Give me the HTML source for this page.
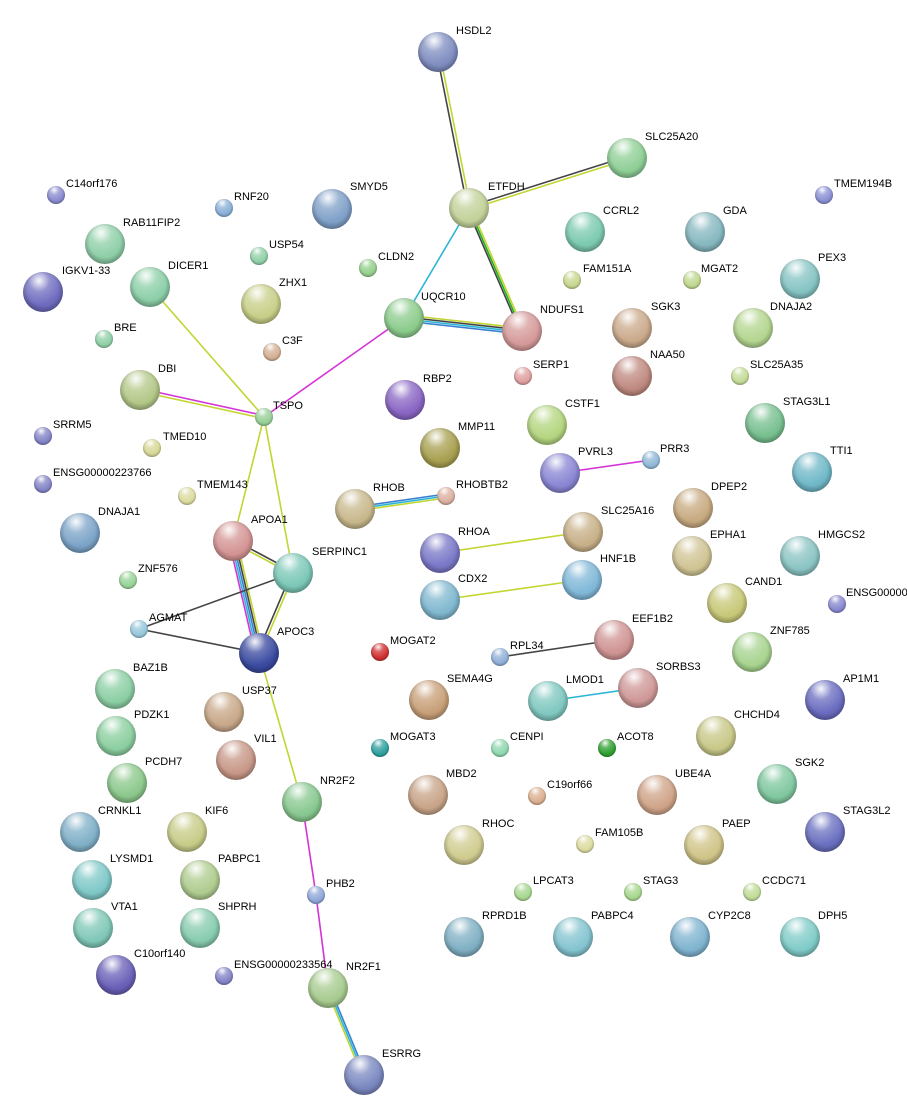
<!DOCTYPE html>
<html><head><meta charset="utf-8"><style>
html,body{margin:0;padding:0;background:#fff;}
svg{display:block;}
text{font-family:"Liberation Sans",sans-serif;font-size:11px;fill:#000;}
</style></head><body>
<svg width="907" height="1119" viewBox="0 0 907 1119" xmlns="http://www.w3.org/2000/svg">
<defs>
<radialGradient id="hl" cx="40%" cy="22%" r="60%"><stop offset="0" stop-color="#fff" stop-opacity="0.95"/><stop offset="0.45" stop-color="#fff" stop-opacity="0.25"/><stop offset="1" stop-color="#fff" stop-opacity="0"/></radialGradient>
<radialGradient id="rim" cx="50%" cy="45%" r="55%"><stop offset="0.7" stop-color="#000" stop-opacity="0"/><stop offset="1" stop-color="#000" stop-opacity="0.3"/></radialGradient>
<symbol id="o" viewBox="-1 -1 2 2" overflow="visible"><circle r="1" fill="url(#rim)"/><circle r="1" fill="url(#hl)"/></symbol>
</defs>
<g stroke-width="1.6" fill="none">
<line x1="436.5" y1="52" x2="467.5" y2="208" stroke="#444"/>
<line x1="439.5" y1="52" x2="470.5" y2="208" stroke="#c2d530"/>
<line x1="469" y1="206.5" x2="627" y2="156.5" stroke="#444"/>
<line x1="469" y1="209.5" x2="627" y2="159.5" stroke="#c2d530"/>
<line x1="469" y1="208" x2="404" y2="318" stroke="#2ab6d6"/>
<line x1="467" y1="208" x2="520" y2="331" stroke="#444"/>
<line x1="469" y1="208" x2="522" y2="331" stroke="#22b322"/>
<line x1="471" y1="208" x2="524" y2="331" stroke="#c2d530"/>
<line x1="404" y1="315" x2="522" y2="328" stroke="#c2d530"/>
<line x1="404" y1="317" x2="522" y2="330" stroke="#444"/>
<line x1="404" y1="319" x2="522" y2="332" stroke="#2ab6d6"/>
<line x1="404" y1="321" x2="522" y2="334" stroke="#3a7fd0"/>
<line x1="404" y1="318" x2="264" y2="417" stroke="#d633d6"/>
<line x1="150" y1="287" x2="264" y2="417" stroke="#c2d530"/>
<line x1="140" y1="388.5" x2="264" y2="415.5" stroke="#d633d6"/>
<line x1="140" y1="391.5" x2="264" y2="418.5" stroke="#c2d530"/>
<line x1="264" y1="417" x2="233" y2="541" stroke="#c2d530"/>
<line x1="264" y1="417" x2="293" y2="573" stroke="#c2d530"/>
<line x1="233" y1="539.5" x2="293" y2="571.5" stroke="#444"/>
<line x1="233" y1="542.5" x2="293" y2="574.5" stroke="#c2d530"/>
<line x1="229" y1="541" x2="255" y2="653" stroke="#d633d6"/>
<line x1="231" y1="541" x2="257" y2="653" stroke="#2ab6d6"/>
<line x1="233" y1="541" x2="259" y2="653" stroke="#3a7fd0"/>
<line x1="235" y1="541" x2="261" y2="653" stroke="#444"/>
<line x1="237" y1="541" x2="263" y2="653" stroke="#c2d530"/>
<line x1="291.5" y1="573" x2="257.5" y2="653" stroke="#444"/>
<line x1="294.5" y1="573" x2="260.5" y2="653" stroke="#c2d530"/>
<line x1="139" y1="629" x2="293" y2="573" stroke="#444"/>
<line x1="139" y1="629" x2="259" y2="653" stroke="#444"/>
<line x1="259" y1="653" x2="302" y2="802" stroke="#c2d530"/>
<line x1="302" y1="802" x2="316" y2="895" stroke="#d633d6"/>
<line x1="316" y1="895" x2="328" y2="988" stroke="#d633d6"/>
<line x1="326" y1="988" x2="362" y2="1075" stroke="#c2d530"/>
<line x1="328" y1="988" x2="364" y2="1075" stroke="#2ab6d6"/>
<line x1="330" y1="988" x2="366" y2="1075" stroke="#3a7fd0"/>
<line x1="355" y1="507" x2="446" y2="494" stroke="#3a7fd0"/>
<line x1="355" y1="509" x2="446" y2="496" stroke="#2ab6d6"/>
<line x1="355" y1="511" x2="446" y2="498" stroke="#c2d530"/>
<line x1="440" y1="553" x2="583" y2="532" stroke="#c2d530"/>
<line x1="440" y1="600" x2="582" y2="580" stroke="#c2d530"/>
<line x1="500" y1="657" x2="614" y2="640" stroke="#444"/>
<line x1="548" y1="701" x2="638" y2="688" stroke="#2ab6d6"/>
<line x1="560" y1="473" x2="651" y2="460" stroke="#d633d6"/>
</g>
<g id="nodes">
<!-- large nodes r=20 -->
<g>
<circle cx="438" cy="52" r="20" fill="#7f8dc0"/><use href="#o" x="418" y="32" width="40" height="40"/>
<circle cx="627" cy="158" r="20" fill="#8fcf96"/><use href="#o" x="607" y="138" width="40" height="40"/>
<circle cx="469" cy="208" r="20" fill="#c3d29a"/><use href="#o" x="449" y="188" width="40" height="40"/>
<circle cx="332" cy="209" r="20" fill="#7fa0c8"/><use href="#o" x="312" y="189" width="40" height="40"/>
<circle cx="105" cy="244" r="20" fill="#8ecfa8"/><use href="#o" x="85" y="224" width="40" height="40"/>
<circle cx="585" cy="232" r="20" fill="#7ccab0"/><use href="#o" x="565" y="212" width="40" height="40"/>
<circle cx="705" cy="232" r="20" fill="#86b8c0"/><use href="#o" x="685" y="212" width="40" height="40"/>
<circle cx="43" cy="292" r="20" fill="#6f6cc0"/><use href="#o" x="23" y="272" width="40" height="40"/>
<circle cx="150" cy="287" r="20" fill="#8ccfa8"/><use href="#o" x="130" y="267" width="40" height="40"/>
<circle cx="261" cy="304" r="20" fill="#c8cf88"/><use href="#o" x="241" y="284" width="40" height="40"/>
<circle cx="800" cy="279" r="20" fill="#86c4c4"/><use href="#o" x="780" y="259" width="40" height="40"/>
<circle cx="404" cy="318" r="20" fill="#8ccc8c"/><use href="#o" x="384" y="298" width="40" height="40"/>
<circle cx="522" cy="331" r="20" fill="#d69a9a"/><use href="#o" x="502" y="311" width="40" height="40"/>
<circle cx="632" cy="328" r="20" fill="#cbaa8c"/><use href="#o" x="612" y="308" width="40" height="40"/>
<circle cx="753" cy="328" r="20" fill="#b4d690"/><use href="#o" x="733" y="308" width="40" height="40"/>
<circle cx="632" cy="376" r="20" fill="#c08a80"/><use href="#o" x="612" y="356" width="40" height="40"/>
<circle cx="140" cy="390" r="20" fill="#b4c888"/><use href="#o" x="120" y="370" width="40" height="40"/>
<circle cx="405" cy="400" r="20" fill="#8a66c4"/><use href="#o" x="385" y="380" width="40" height="40"/>
<circle cx="765" cy="423" r="20" fill="#78c090"/><use href="#o" x="745" y="403" width="40" height="40"/>
<circle cx="547" cy="425" r="20" fill="#b4d680"/><use href="#o" x="527" y="405" width="40" height="40"/>
<circle cx="440" cy="448" r="20" fill="#a8a050"/><use href="#o" x="420" y="428" width="40" height="40"/>
<circle cx="812" cy="472" r="20" fill="#70b8c8"/><use href="#o" x="792" y="452" width="40" height="40"/>
<circle cx="560" cy="473" r="20" fill="#8a86d4"/><use href="#o" x="540" y="453" width="40" height="40"/>
<circle cx="80" cy="533" r="20" fill="#7ca4c8"/><use href="#o" x="60" y="513" width="40" height="40"/>
<circle cx="355" cy="509" r="20" fill="#c8b88c"/><use href="#o" x="335" y="489" width="40" height="40"/>
<circle cx="693" cy="508" r="20" fill="#c8aa80"/><use href="#o" x="673" y="488" width="40" height="40"/>
<circle cx="233" cy="541" r="20" fill="#d49494"/><use href="#o" x="213" y="521" width="40" height="40"/>
<circle cx="583" cy="532" r="20" fill="#c8b088"/><use href="#o" x="563" y="512" width="40" height="40"/>
<circle cx="440" cy="553" r="20" fill="#7a78c8"/><use href="#o" x="420" y="533" width="40" height="40"/>
<circle cx="692" cy="556" r="20" fill="#d0c494"/><use href="#o" x="672" y="536" width="40" height="40"/>
<circle cx="800" cy="556" r="20" fill="#8cc4c4"/><use href="#o" x="780" y="536" width="40" height="40"/>
<circle cx="293" cy="573" r="20" fill="#7cc8b8"/><use href="#o" x="273" y="553" width="40" height="40"/>
<circle cx="582" cy="580" r="20" fill="#80b8d8"/><use href="#o" x="562" y="560" width="40" height="40"/>
<circle cx="440" cy="600" r="20" fill="#80b8d0"/><use href="#o" x="420" y="580" width="40" height="40"/>
<circle cx="727" cy="603" r="20" fill="#c8c878"/><use href="#o" x="707" y="583" width="40" height="40"/>
<circle cx="259" cy="653" r="20" fill="#3a4aa0"/><use href="#o" x="239" y="633" width="40" height="40"/>
<circle cx="614" cy="640" r="20" fill="#d09494"/><use href="#o" x="594" y="620" width="40" height="40"/>
<circle cx="752" cy="652" r="20" fill="#a8d490"/><use href="#o" x="732" y="632" width="40" height="40"/>
<circle cx="115" cy="689" r="20" fill="#8ccfa4"/><use href="#o" x="95" y="669" width="40" height="40"/>
<circle cx="429" cy="700" r="20" fill="#c8a078"/><use href="#o" x="409" y="680" width="40" height="40"/>
<circle cx="548" cy="701" r="20" fill="#80c8c0"/><use href="#o" x="528" y="681" width="40" height="40"/>
<circle cx="638" cy="688" r="20" fill="#d09898"/><use href="#o" x="618" y="668" width="40" height="40"/>
<circle cx="825" cy="700" r="20" fill="#6a6cc0"/><use href="#o" x="805" y="680" width="40" height="40"/>
<circle cx="224" cy="712" r="20" fill="#c8a888"/><use href="#o" x="204" y="692" width="40" height="40"/>
<circle cx="116" cy="736" r="20" fill="#8ccfa0"/><use href="#o" x="96" y="716" width="40" height="40"/>
<circle cx="716" cy="736" r="20" fill="#c8c888"/><use href="#o" x="696" y="716" width="40" height="40"/>
<circle cx="236" cy="760" r="20" fill="#c89888"/><use href="#o" x="216" y="740" width="40" height="40"/>
<circle cx="127" cy="783" r="20" fill="#8cc88c"/><use href="#o" x="107" y="763" width="40" height="40"/>
<circle cx="428" cy="795" r="20" fill="#c8a488"/><use href="#o" x="408" y="775" width="40" height="40"/>
<circle cx="657" cy="795" r="20" fill="#d0a488"/><use href="#o" x="637" y="775" width="40" height="40"/>
<circle cx="777" cy="784" r="20" fill="#80c8a0"/><use href="#o" x="757" y="764" width="40" height="40"/>
<circle cx="302" cy="802" r="20" fill="#88c890"/><use href="#o" x="282" y="782" width="40" height="40"/>
<circle cx="80" cy="832" r="20" fill="#80b0c8"/><use href="#o" x="60" y="812" width="40" height="40"/>
<circle cx="187" cy="832" r="20" fill="#c8cc88"/><use href="#o" x="167" y="812" width="40" height="40"/>
<circle cx="464" cy="845" r="20" fill="#d0cc90"/><use href="#o" x="444" y="825" width="40" height="40"/>
<circle cx="704" cy="845" r="20" fill="#d0c488"/><use href="#o" x="684" y="825" width="40" height="40"/>
<circle cx="825" cy="832" r="20" fill="#6a70c0"/><use href="#o" x="805" y="812" width="40" height="40"/>
<circle cx="92" cy="880" r="20" fill="#80c8c8"/><use href="#o" x="72" y="860" width="40" height="40"/>
<circle cx="200" cy="880" r="20" fill="#b0cc90"/><use href="#o" x="180" y="860" width="40" height="40"/>
<circle cx="93" cy="928" r="20" fill="#80c8b8"/><use href="#o" x="73" y="908" width="40" height="40"/>
<circle cx="200" cy="928" r="20" fill="#88ccb0"/><use href="#o" x="180" y="908" width="40" height="40"/>
<circle cx="464" cy="937" r="20" fill="#80b0c4"/><use href="#o" x="444" y="917" width="40" height="40"/>
<circle cx="573" cy="937" r="20" fill="#84c4d0"/><use href="#o" x="553" y="917" width="40" height="40"/>
<circle cx="690" cy="937" r="20" fill="#80b4d0"/><use href="#o" x="670" y="917" width="40" height="40"/>
<circle cx="800" cy="937" r="20" fill="#80ccc8"/><use href="#o" x="780" y="917" width="40" height="40"/>
<circle cx="116" cy="975" r="20" fill="#6a60b8"/><use href="#o" x="96" y="955" width="40" height="40"/>
<circle cx="328" cy="988" r="20" fill="#a8cc90"/><use href="#o" x="308" y="968" width="40" height="40"/>
<circle cx="364" cy="1075" r="20" fill="#7a88c0"/><use href="#o" x="344" y="1055" width="40" height="40"/>
</g>
<!-- small nodes r=9 -->
<g>
<circle cx="56" cy="195" r="9" fill="#8a8ad0"/><use href="#o" x="47" y="186" width="18" height="18"/>
<circle cx="224" cy="208" r="9" fill="#8ab0d8"/><use href="#o" x="215" y="199" width="18" height="18"/>
<circle cx="824" cy="195" r="9" fill="#8a90d4"/><use href="#o" x="815" y="186" width="18" height="18"/>
<circle cx="259" cy="256" r="9" fill="#90d0a8"/><use href="#o" x="250" y="247" width="18" height="18"/>
<circle cx="368" cy="268" r="9" fill="#94d08c"/><use href="#o" x="359" y="259" width="18" height="18"/>
<circle cx="572" cy="280" r="9" fill="#c8d890"/><use href="#o" x="563" y="271" width="18" height="18"/>
<circle cx="692" cy="280" r="9" fill="#c0d890"/><use href="#o" x="683" y="271" width="18" height="18"/>
<circle cx="104" cy="339" r="9" fill="#90d0a8"/><use href="#o" x="95" y="330" width="18" height="18"/>
<circle cx="272" cy="352" r="9" fill="#d4b094"/><use href="#o" x="263" y="343" width="18" height="18"/>
<circle cx="523" cy="376" r="9" fill="#e0a0a0"/><use href="#o" x="514" y="367" width="18" height="18"/>
<circle cx="740" cy="376" r="9" fill="#c4dc98"/><use href="#o" x="731" y="367" width="18" height="18"/>
<circle cx="264" cy="417" r="9" fill="#98d098"/><use href="#o" x="255" y="408" width="18" height="18"/>
<circle cx="43" cy="436" r="9" fill="#8484c8"/><use href="#o" x="34" y="427" width="18" height="18"/>
<circle cx="152" cy="448" r="9" fill="#d8d898"/><use href="#o" x="143" y="439" width="18" height="18"/>
<circle cx="651" cy="460" r="9" fill="#90b8d8"/><use href="#o" x="642" y="451" width="18" height="18"/>
<circle cx="43" cy="484" r="9" fill="#8484c8"/><use href="#o" x="34" y="475" width="18" height="18"/>
<circle cx="187" cy="496" r="9" fill="#dcdca0"/><use href="#o" x="178" y="487" width="18" height="18"/>
<circle cx="446" cy="496" r="9" fill="#dcb0a0"/><use href="#o" x="437" y="487" width="18" height="18"/>
<circle cx="128" cy="580" r="9" fill="#98d498"/><use href="#o" x="119" y="571" width="18" height="18"/>
<circle cx="837" cy="604" r="9" fill="#8888d0"/><use href="#o" x="828" y="595" width="18" height="18"/>
<circle cx="139" cy="629" r="9" fill="#98c8dc"/><use href="#o" x="130" y="620" width="18" height="18"/>
<circle cx="380" cy="652" r="9" fill="#d03030"/><use href="#o" x="371" y="643" width="18" height="18"/>
<circle cx="500" cy="657" r="9" fill="#90b0d8"/><use href="#o" x="491" y="648" width="18" height="18"/>
<circle cx="380" cy="748" r="9" fill="#30a0a0"/><use href="#o" x="371" y="739" width="18" height="18"/>
<circle cx="500" cy="748" r="9" fill="#90d8b0"/><use href="#o" x="491" y="739" width="18" height="18"/>
<circle cx="607" cy="748" r="9" fill="#30a030"/><use href="#o" x="598" y="739" width="18" height="18"/>
<circle cx="537" cy="796" r="9" fill="#dcb090"/><use href="#o" x="528" y="787" width="18" height="18"/>
<circle cx="585" cy="844" r="9" fill="#dcdca0"/><use href="#o" x="576" y="835" width="18" height="18"/>
<circle cx="523" cy="892" r="9" fill="#a8d890"/><use href="#o" x="514" y="883" width="18" height="18"/>
<circle cx="633" cy="892" r="9" fill="#a8d890"/><use href="#o" x="624" y="883" width="18" height="18"/>
<circle cx="752" cy="892" r="9" fill="#c0dc98"/><use href="#o" x="743" y="883" width="18" height="18"/>
<circle cx="316" cy="895" r="9" fill="#90a8d8"/><use href="#o" x="307" y="886" width="18" height="18"/>
<circle cx="224" cy="976" r="9" fill="#8484c8"/><use href="#o" x="215" y="967" width="18" height="18"/>
</g>
</g>
<g>
<text x="456" y="34">HSDL2</text>
<text x="645" y="140">SLC25A20</text>
<text x="488" y="190">ETFDH</text>
<text x="350" y="190">SMYD5</text>
<text x="123" y="226">RAB11FIP2</text>
<text x="603" y="214">CCRL2</text>
<text x="723" y="214">GDA</text>
<text x="62" y="274">IGKV1-33</text>
<text x="168" y="269">DICER1</text>
<text x="279" y="286">ZHX1</text>
<text x="818" y="261">PEX3</text>
<text x="421" y="300">UQCR10</text>
<text x="540" y="313">NDUFS1</text>
<text x="651" y="310">SGK3</text>
<text x="770" y="310">DNAJA2</text>
<text x="650" y="358">NAA50</text>
<text x="158" y="372">DBI</text>
<text x="423" y="382">RBP2</text>
<text x="783" y="405">STAG3L1</text>
<text x="565" y="407">CSTF1</text>
<text x="458" y="430">MMP11</text>
<text x="830" y="454">TTI1</text>
<text x="578" y="455">PVRL3</text>
<text x="98" y="515">DNAJA1</text>
<text x="373" y="491">RHOB</text>
<text x="711" y="490">DPEP2</text>
<text x="251" y="523">APOA1</text>
<text x="601" y="514">SLC25A16</text>
<text x="458" y="535">RHOA</text>
<text x="710" y="538">EPHA1</text>
<text x="818" y="538">HMGCS2</text>
<text x="312" y="555">SERPINC1</text>
<text x="600" y="562">HNF1B</text>
<text x="458" y="582">CDX2</text>
<text x="745" y="585">CAND1</text>
<text x="277" y="635">APOC3</text>
<text x="632" y="622">EEF1B2</text>
<text x="770" y="634">ZNF785</text>
<text x="133" y="671">BAZ1B</text>
<text x="447" y="682">SEMA4G</text>
<text x="566" y="683">LMOD1</text>
<text x="656" y="670">SORBS3</text>
<text x="843" y="682">AP1M1</text>
<text x="242" y="694">USP37</text>
<text x="134" y="718">PDZK1</text>
<text x="734" y="718">CHCHD4</text>
<text x="254" y="742">VIL1</text>
<text x="145" y="765">PCDH7</text>
<text x="446" y="777">MBD2</text>
<text x="675" y="777">UBE4A</text>
<text x="795" y="766">SGK2</text>
<text x="320" y="784">NR2F2</text>
<text x="98" y="814">CRNKL1</text>
<text x="205" y="814">KIF6</text>
<text x="482" y="827">RHOC</text>
<text x="722" y="827">PAEP</text>
<text x="843" y="814">STAG3L2</text>
<text x="110" y="862">LYSMD1</text>
<text x="218" y="862">PABPC1</text>
<text x="111" y="910">VTA1</text>
<text x="218" y="910">SHPRH</text>
<text x="482" y="919">RPRD1B</text>
<text x="591" y="919">PABPC4</text>
<text x="708" y="919">CYP2C8</text>
<text x="818" y="919">DPH5</text>
<text x="134" y="957">C10orf140</text>
<text x="346" y="970">NR2F1</text>
<text x="382" y="1057">ESRRG</text>
<text x="66" y="187">C14orf176</text>
<text x="234" y="200">RNF20</text>
<text x="834" y="187">TMEM194B</text>
<text x="269" y="248">USP54</text>
<text x="378" y="260">CLDN2</text>
<text x="583" y="272">FAM151A</text>
<text x="701" y="272">MGAT2</text>
<text x="114" y="331">BRE</text>
<text x="282" y="344">C3F</text>
<text x="533" y="368">SERP1</text>
<text x="750" y="368">SLC25A35</text>
<text x="273" y="409">TSPO</text>
<text x="53" y="428">SRRM5</text>
<text x="163" y="440">TMED10</text>
<text x="660" y="452">PRR3</text>
<text x="53" y="476">ENSG00000223766</text>
<text x="197" y="488">TMEM143</text>
<text x="456" y="488">RHOBTB2</text>
<text x="138" y="572">ZNF576</text>
<text x="846" y="596">ENSG00000</text>
<text x="149" y="621">AGMAT</text>
<text x="390" y="644">MOGAT2</text>
<text x="510" y="649">RPL34</text>
<text x="390" y="740">MOGAT3</text>
<text x="510" y="740">CENPI</text>
<text x="617" y="740">ACOT8</text>
<text x="547" y="788">C19orf66</text>
<text x="595" y="836">FAM105B</text>
<text x="533" y="884">LPCAT3</text>
<text x="643" y="884">STAG3</text>
<text x="762" y="884">CCDC71</text>
<text x="326" y="887">PHB2</text>
<text x="234" y="968">ENSG00000233564</text>
</g>
</svg>
</body></html>
